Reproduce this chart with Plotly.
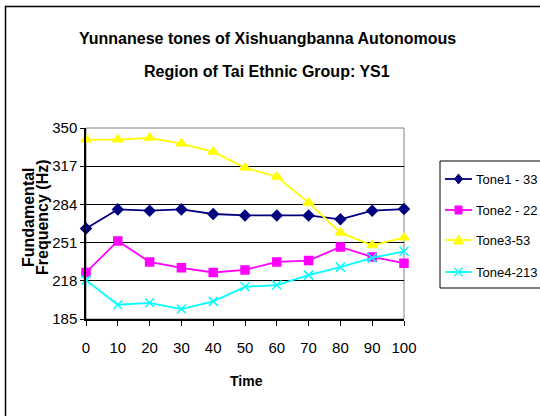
import plotly.graph_objects as go

time = [0, 10, 20, 30, 40, 50, 60, 70, 80, 90, 100]
tone1 = [263.1, 279.7, 278.6, 279.7, 275.7, 274.5, 274.5, 274.5, 271.1, 278.6, 280.0]
tone2 = [225.2, 252.4, 234.3, 229.2, 225.2, 227.4, 234.3, 235.5, 247.2, 238.6, 233.2]
tone3 = [340.0, 340.0, 341.5, 336.6, 329.4, 315.6, 307.9, 285.5, 259.6, 248.7, 255.3]
tone4 = [218.6, 197.3, 199.0, 193.6, 200.2, 212.8, 214.3, 222.9, 229.8, 237.8, 243.5]
names = ["Tone1 - 33", "Tone2 - 22", "Tone3-53", "Tone4-213"]
y_ticks = [185, 218, 251, 284, 317, 350]

FONT = "Liberation Sans Narrow, Arial Narrow, Liberation Sans, Arial, sans-serif"

styles = [
    dict(color="#000080", symbol="diamond", size=8),
    dict(color="#FF00FF", symbol="square", size=8),
    dict(color="#FFFF00", symbol="triangle-up", size=9),
    dict(color="#00FFFF", symbol="x-thin-open", size=9),
]

x0p = 86; x1p = 404; y0p = 128; y1p = 319
W = x1p - x0p; H = y1p - y0p

def px(x):
    return (x - x0p) / W

def py(y):
    return (y1p - y) / H

fig = go.Figure()
for nm, ys, st in zip(names, [tone1, tone2, tone3, tone4], styles):
    fig.add_trace(go.Scatter(
        x=time, y=ys, name=nm, mode="lines+markers", cliponaxis=False,
        showlegend=False,
        line=dict(color=st["color"], width=1.8),
        marker=dict(symbol=st["symbol"], size=st["size"], color=st["color"],
                    line=dict(color=st["color"], width=1.5)),
    ))

# ---- manual legend (box cut by the right edge, like the reference) ----
leg_y = [179, 210, 240, 272]
fig.add_shape(type="rect", xref="paper", yref="paper",
              x0=px(440), x1=px(600), y0=py(161), y1=py(288),
              line=dict(color="#000", width=1), fillcolor="white", layer="above")

def pth(points):
    return "M " + " L ".join(f"{px(a):.5f},{py(b):.5f}" for a, b in points) + " Z"

cx = 458.5
for nm, st, ly in zip(names, styles, leg_y):
    c = st["color"]
    fig.add_shape(type="line", xref="paper", yref="paper",
                  x0=px(445), x1=px(472), y0=py(ly), y1=py(ly),
                  line=dict(color=c, width=1.8), layer="above")
    if st["symbol"] == "diamond":
        fig.add_shape(type="path", xref="paper", yref="paper",
                      path=pth([(cx, ly - 5), (cx + 4, ly), (cx, ly + 5), (cx - 4, ly)]),
                      fillcolor=c, line=dict(color=c, width=1), layer="above")
    elif st["symbol"] == "square":
        fig.add_shape(type="rect", xref="paper", yref="paper",
                      x0=px(cx - 3.5), x1=px(cx + 3.5), y0=py(ly - 4), y1=py(ly + 4),
                      fillcolor=c, line=dict(color=c, width=1), layer="above")
    elif st["symbol"] == "triangle-up":
        fig.add_shape(type="path", xref="paper", yref="paper",
                      path=pth([(cx, ly - 5), (cx + 5, ly + 4), (cx - 5, ly + 4)]),
                      fillcolor=c, line=dict(color=c, width=1), layer="above")
    else:
        for (a, b, d, e) in [(cx - 4, ly - 4, cx + 4, ly + 4), (cx - 4, ly + 4, cx + 4, ly - 4)]:
            fig.add_shape(type="line", xref="paper", yref="paper",
                          x0=px(a), y0=py(b), x1=px(d), y1=py(e),
                          line=dict(color=c, width=1.5), layer="above")
    fig.add_annotation(xref="paper", yref="paper", x=px(474), y=py(ly),
                       text=nm, showarrow=False, xanchor="left", yanchor="middle",
                       font=dict(family=FONT, size=13, color="#000"))

# outer chart border
fig.add_shape(type="rect", xref="paper", yref="paper",
              x0=px(5.5), x1=px(600), y0=py(6.5), y1=py(450),
              line=dict(color="#000000", width=1.5), layer="below")
# plot area border
fig.add_shape(type="rect", xref="paper", yref="paper", x0=0, x1=1, y0=0, y1=1,
              line=dict(color="#808080", width=1), layer="below")

fig.add_annotation(xref="paper", yref="paper", x=px(267), y=py(38),
                   text="<b>Yunnanese tones of Xishuangbanna Autonomous</b>",
                   showarrow=False, font=dict(family=FONT, size=16, color="#000"),
                   xanchor="center", yanchor="middle")
fig.add_annotation(xref="paper", yref="paper", x=px(267), y=py(71),
                   text="<b>Region of Tai Ethnic Group: YS1</b>",
                   showarrow=False, font=dict(family=FONT, size=16, color="#000"),
                   xanchor="center", yanchor="middle")
fig.add_annotation(xref="paper", yref="paper", x=px(28), y=py(217),
                   text="<b>Fundamental</b>", textangle=-90,
                   showarrow=False, font=dict(family=FONT, size=16, color="#000"),
                   xanchor="center", yanchor="middle")
fig.add_annotation(xref="paper", yref="paper", x=px(42), y=py(217),
                   text="<b>Frequency (Hz)</b>", textangle=-90,
                   showarrow=False, font=dict(family=FONT, size=16, color="#000"),
                   xanchor="center", yanchor="middle")
fig.add_annotation(xref="paper", yref="paper", x=px(246), y=py(381),
                   text="<b>Time</b>", showarrow=False,
                   font=dict(family=FONT, size=14, color="#000"),
                   xanchor="center", yanchor="middle")

fig.update_layout(
    width=540, height=416,
    margin=dict(l=x0p, r=540 - x1p, t=y0p, b=416 - y1p, autoexpand=False),
    paper_bgcolor="white", plot_bgcolor="white",
    font=dict(family=FONT, size=14, color="#000"),
    showlegend=False,
    xaxis=dict(range=[0, 100], tickvals=time, ticks="outside", ticklen=5,
               tickcolor="#000", showline=True, linecolor="#000", linewidth=1.5,
               showgrid=False, zeroline=False, fixedrange=True,
               ticklabelstandoff=9,
               tickfont=dict(family=FONT, size=15)),
    yaxis=dict(range=[185, 350], tickvals=y_ticks, ticks="outside", ticklen=4,
               tickcolor="#000", showline=True, linecolor="#000", linewidth=1.5,
               showgrid=True, gridcolor="#000", gridwidth=1, zeroline=False,
               fixedrange=True, tickfont=dict(family=FONT, size=15)),
)

fig.write_html("out.html", config={"displayModeBar": False},
               post_script="document.body.style.margin='0';document.body.style.overflow='hidden';")
